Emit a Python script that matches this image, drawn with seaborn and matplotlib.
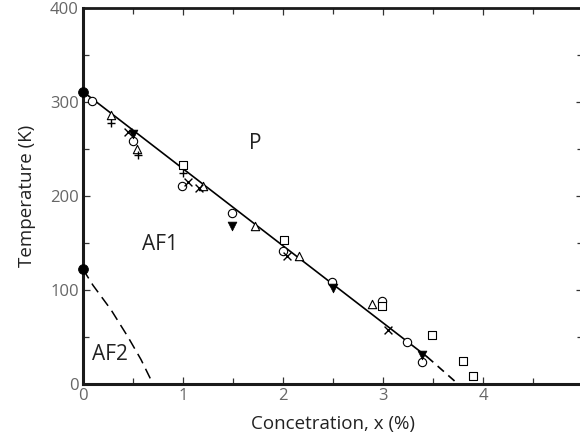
import matplotlib
matplotlib.use("Agg")
import matplotlib.pyplot as plt
import seaborn as sns
import numpy as np

# ---- data ----
endpoint_x = [0.0, 0.0]
endpoint_T = [311, 122]

circle_x = [0.09, 0.50, 0.99, 1.49, 2.00, 2.49, 2.99, 3.24, 3.39]
circle_T = [301, 258, 211, 182, 141, 108, 88, 45, 23]

triangle_x = [0.28, 0.54, 1.20, 1.72, 2.16, 2.89]
triangle_T = [286, 250, 211, 168, 136, 85]

plus_x = [0.28, 0.55, 1.00]
plus_T = [278, 244, 224]

cross_x = [0.45, 1.05, 1.16, 2.04, 3.05]
cross_T = [268, 215, 208, 136, 57]

vtri_x = [0.50, 1.49, 2.50, 3.39]
vtri_T = [266, 168, 102, 31]

square_x = [1.00, 2.01, 2.99, 3.49, 3.80, 3.90]
square_T = [233, 153, 83, 52, 24, 9]

# phase boundaries
line_x = [0.0, 3.44]
line_T = [311, 29]
ext_x = [3.44, 3.75]
ext_T = [29, 0]
af2_x = [0.0, 0.10, 0.28, 0.45, 0.58, 0.70]
af2_T = [122, 105, 79, 50, 26, 0]

x_ticks = [0, 1, 2, 3, 4]
y_ticks = [0, 100, 200, 300, 400]

# ---- plotting ----
sns.set_theme(style="ticks")
plt.rcParams["font.family"] = ["Open Sans", "DejaVu Sans"]

W, H = 580, 443
fig = plt.figure(figsize=(W / 100, H / 100), dpi=100)
ax = fig.add_axes([83 / W, (H - 384) / H, 500 / W, 376 / H])

sns.lineplot(x=line_x, y=line_T, ax=ax, color="black", linewidth=1.2)
sns.lineplot(x=ext_x, y=ext_T, ax=ax, color="black", linewidth=1.2,
             linestyle=(0, (5, 3.5)))
sns.lineplot(x=af2_x, y=af2_T, ax=ax, color="black", linewidth=1.1,
             linestyle=(0, (7, 4)))

open_kw = dict(s=36, facecolor="white", edgecolor="black", linewidth=0.8, zorder=5)
sns.scatterplot(x=circle_x, y=circle_T, marker="o", ax=ax, **open_kw)
sns.scatterplot(x=triangle_x, y=triangle_T, marker="^", ax=ax, **open_kw)
sns.scatterplot(x=square_x, y=square_T, marker="s", ax=ax, **open_kw)
sns.scatterplot(x=plus_x, y=plus_T, marker="+", ax=ax, s=40, color="black",
                linewidth=1.0, zorder=5)
sns.scatterplot(x=cross_x, y=cross_T, marker="x", ax=ax, s=32, color="black",
                linewidth=1.0, zorder=5)
sns.scatterplot(x=vtri_x, y=vtri_T, marker="v", ax=ax, s=40, color="black",
                edgecolor="black", zorder=5)
sns.scatterplot(x=endpoint_x, y=endpoint_T, marker="o", ax=ax, s=50, color="black",
                edgecolor="black", zorder=6, clip_on=False)

ax.set_xlim(0, 5)
ax.set_ylim(0, 400)
ax.set_xticks(x_ticks)
ax.set_yticks(y_ticks)
ax.set_xticks(np.arange(0.5, 5, 1.0), minor=True)
ax.set_yticks(np.arange(50, 400, 100), minor=True)

for s in ax.spines.values():
    s.set_color("#1a1a1a")
ax.spines["left"].set_linewidth(2.2)
ax.spines["bottom"].set_linewidth(2.2)
ax.spines["top"].set_linewidth(2.0)
ax.spines["right"].set_visible(False)

ax.tick_params(which="both", direction="in", top=True, right=True,
               color="#333333", width=0.9)
ax.tick_params(which="major", length=5, pad=3, labelsize=12,
               labelcolor="#666666")
ax.tick_params(which="minor", length=4)

ax.set_xlabel("Concetration, x (%)", fontsize=13.5, color="#222222", labelpad=8)
ax.set_ylabel("Temperature (K)", fontsize=13.5, color="#222222", labelpad=10)

ax.text(1.72, 256, "P", fontsize=15, color="#222222", ha="center", va="center")
ax.text(0.77, 148, "AF1", fontsize=15, color="#222222", ha="center", va="center")
ax.text(0.27, 31, "AF2", fontsize=15, color="#222222", ha="center", va="center")

fig.savefig("out.png", dpi=100)
